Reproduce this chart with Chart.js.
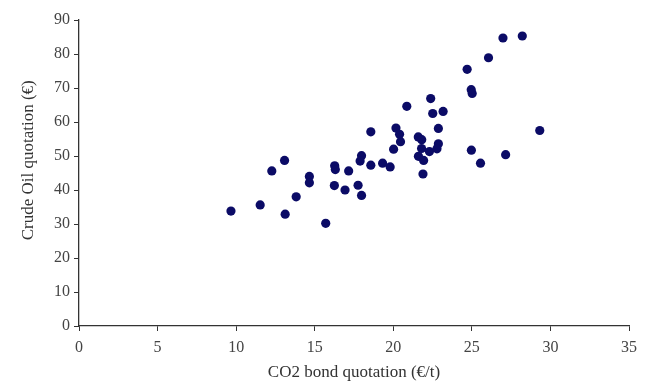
<!DOCTYPE html>
<html>
<head>
<meta charset="utf-8">
<script src="https://cdn.jsdelivr.net/npm/chart.js@4"></script>
<style>
html,body{margin:0;padding:0;background:#fff;}
#wrap{width:653px;height:385px;}
</style>
</head>
<body>
<div id="wrap"><canvas id="c" width="653" height="385"></canvas></div>
<script>
const co2Quote = [9.67,11.53,12.27,13.08,13.12,13.82,14.66,14.66,15.70,16.27,16.31,16.25,16.93,17.16,17.76,17.98,17.89,17.98,18.57,18.57,19.32,19.80,20.17,20.02,20.40,20.46,20.86,21.59,21.81,21.80,21.60,21.93,21.89,22.30,22.38,22.51,23.17,22.87,22.87,22.78,24.70,24.96,25.02,24.97,25.55,26.06,26.98,27.15,28.21,29.32];
const oilQuote = [33.8,35.6,45.6,48.7,32.9,38.0,44.0,42.1,30.2,47.1,46.0,41.3,40.0,45.6,41.4,50.1,48.5,38.4,57.1,47.3,47.9,46.8,58.2,52.0,56.4,54.2,64.6,55.6,54.8,52.2,49.9,48.7,44.7,51.3,66.9,62.5,63.1,58.1,53.6,52.1,75.5,69.5,68.4,51.7,47.9,78.9,84.7,50.4,85.3,57.5];
const xTitle = "CO2 bond quotation (€/t)";
const yTitle = "Crude Oil quotation (€)";

const points = co2Quote.map((x, i) => ({x: x, y: oilQuote[i]}));
const tickFont = {family: "'Liberation Serif', 'Times New Roman', serif", size: 16};
const titleFont = {family: "'Liberation Serif', 'Times New Roman', serif", size: 17};

new Chart(document.getElementById('c'), {
  type: 'scatter',
  data: {datasets: [{data: points, backgroundColor: '#0b0b66', borderColor: '#0b0b66', pointRadius: 4.6, pointBorderWidth: 0}]},
  options: {
    responsive: false, animation: false,
    layout: {padding: {top: 20, right: 24, bottom: 0, left: 0}},
    plugins: {legend: {display: false}, tooltip: {enabled: false}},
    scales: {
      x: {
        type: 'linear', min: 0, max: 35,
        ticks: {stepSize: 5, color: '#444', font: tickFont, padding: 7, maxRotation: 0},
        grid: {drawOnChartArea: false, drawTicks: true, tickLength: 5, color: '#333', lineWidth: 1},
        border: {color: '#333', width: 1.3},
        title: {display: true, text: xTitle, color: '#333', font: titleFont, padding: {top: 0, bottom: 2}},
        afterFit: s => { s.height = 59; }
      },
      y: {
        type: 'linear', min: 0, max: 90,
        ticks: {stepSize: 10, color: '#444', font: tickFont, padding: 4},
        grid: {drawOnChartArea: false, drawTicks: true, tickLength: 5, color: '#333', lineWidth: 1},
        border: {color: '#333', width: 1.3},
        title: {display: true, text: "      " + yTitle, color: '#333', font: titleFont, padding: {top: 18, bottom: 0}},
        afterFit: s => { s.width = 79; }
      }
    }
  }
});
</script>
</body>
</html>
